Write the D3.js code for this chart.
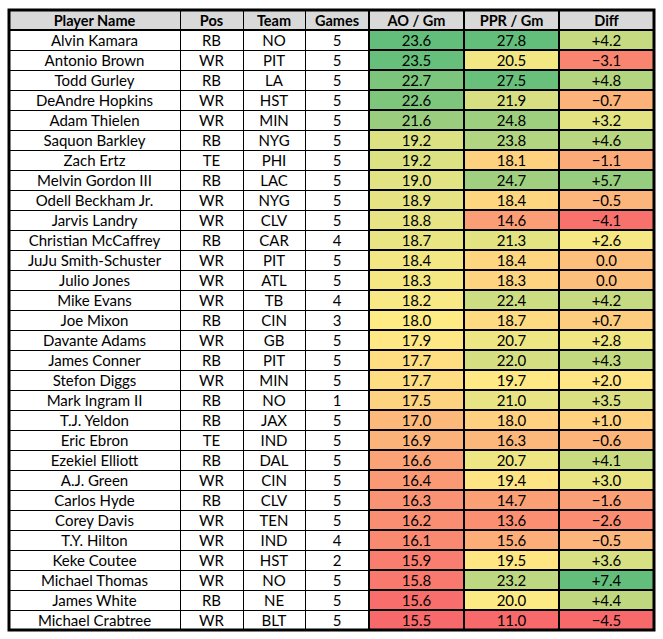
<!DOCTYPE html>
<html>
<head>
<meta charset="utf-8">
<script src="https://cdn.jsdelivr.net/npm/d3@7/dist/d3.min.js"></script>
<style>
  html, body { margin: 0; padding: 0; background: #fff; }
  svg { display: block; }
</style>
</head>
<body>
<svg id="chart" width="663" height="639"></svg>
<script>
const headers = ["Player Name", "Pos", "Team", "Games", "AO / Gm", "PPR / Gm", "Diff"];
const players = ["Alvin Kamara","Antonio Brown","Todd Gurley","DeAndre Hopkins","Adam Thielen","Saquon Barkley","Zach Ertz","Melvin Gordon III","Odell Beckham Jr.","Jarvis Landry","Christian McCaffrey","JuJu Smith-Schuster","Julio Jones","Mike Evans","Joe Mixon","Davante Adams","James Conner","Stefon Diggs","Mark Ingram II","T.J. Yeldon","Eric Ebron","Ezekiel Elliott","A.J. Green","Carlos Hyde","Corey Davis","T.Y. Hilton","Keke Coutee","Michael Thomas","James White","Michael Crabtree"];
const positions = ["RB","WR","RB","WR","WR","RB","TE","RB","WR","WR","RB","WR","WR","WR","RB","WR","RB","WR","RB","RB","TE","RB","WR","RB","WR","WR","WR","WR","RB","WR"];
const teams = ["NO","PIT","LA","HST","MIN","NYG","PHI","LAC","NYG","CLV","CAR","PIT","ATL","TB","CIN","GB","PIT","MIN","NO","JAX","IND","DAL","CIN","CLV","TEN","IND","HST","NO","NE","BLT"];
const games = [5,5,5,5,5,5,5,5,5,5,4,5,5,4,3,5,5,5,1,5,5,5,5,5,5,4,2,5,5,5];
const aoPerGame = [23.6,23.5,22.7,22.6,21.6,19.2,19.2,19.0,18.9,18.8,18.7,18.4,18.3,18.2,18.0,17.9,17.7,17.7,17.5,17.0,16.9,16.6,16.4,16.3,16.2,16.1,15.9,15.8,15.6,15.5];
const pprPerGame = [27.8,20.5,27.5,21.9,24.8,23.8,18.1,24.7,18.4,14.6,21.3,18.4,18.3,22.4,18.7,20.7,22.0,19.7,21.0,18.0,16.3,20.7,19.4,14.7,13.6,15.6,19.5,23.2,20.0,11.0];
const diffs = [4.2,-3.1,4.8,-0.7,3.2,4.6,-1.1,5.7,-0.5,-4.1,2.6,0.0,0.0,4.2,0.7,2.8,4.3,2.0,3.5,1.0,-0.6,4.1,3.0,-1.6,-2.6,-0.5,3.6,7.4,4.4,-4.5];

// layout
const colEdges = [9, 180, 243, 305, 369, 464, 559, 654];
const tableTop = 10, headerH = 20, rowH = 20;
const font = "Lato, 'Open Sans', sans-serif";

const svg = d3.select("#chart");
const y = d3.scaleBand().domain(d3.range(players.length)).range([tableTop + headerH, tableTop + headerH + rowH * players.length]).paddingInner(0).paddingOuter(0);
const x = d3.scaleOrdinal().domain(d3.range(headers.length)).range(colEdges.slice(0, -1));
const w = i => colEdges[i + 1] - colEdges[i];

function colorScale(vals) {
  const sorted = vals.slice().sort(d3.ascending);
  return d3.scaleLinear()
    .domain([d3.min(vals), d3.quantile(sorted, 0.5), d3.max(vals)])
    .range(["#F8696B", "#FFEB84", "#63BE7B"])
    .interpolate(d3.interpolateRgb);
}
const colAO = colorScale(aoPerGame), colPPR = colorScale(pprPerGame), colDiff = colorScale(diffs);

const fmt1 = d3.format(".1f");
const fmtDiff = v => v > 0 ? "+" + fmt1(v) : fmt1(v);

const rows = players.map((p, i) => [
  { text: p }, { text: positions[i] }, { text: teams[i] }, { text: String(games[i]) },
  { text: fmt1(aoPerGame[i]), fill: colAO(aoPerGame[i]) },
  { text: fmt1(pprPerGame[i]), fill: colPPR(pprPerGame[i]) },
  { text: fmtDiff(diffs[i]), fill: colDiff(diffs[i]) }
]);

// header background
svg.append("rect").attr("x", colEdges[0]).attr("y", tableTop).attr("width", colEdges[7] - colEdges[0]).attr("height", headerH).attr("fill", "#D9D9D9");

// cell fills
const rowG = svg.selectAll("g.row").data(rows).join("g").attr("class", "row")
  .attr("transform", (d, i) => `translate(0,${y(i)})`);
rowG.selectAll("rect").data(d => d.map((c, j) => ({ ...c, j })).filter(c => c.fill)).join("rect")
  .attr("x", c => x(c.j)).attr("y", 0).attr("width", c => w(c.j)).attr("height", y.bandwidth())
  .attr("fill", c => c.fill);

// grid lines
const g = svg.append("g").attr("stroke", "#000").attr("shape-rendering", "crispEdges");
const bottom = tableTop + headerH + rowH * players.length;
d3.range(players.length).forEach(i => {
  const yy = y(i);
  g.append("line").attr("x1", colEdges[0]).attr("x2", colEdges[4]).attr("y1", yy + 0.5).attr("y2", yy + 0.5).attr("stroke-width", 1);
  g.append("line").attr("x1", colEdges[4]).attr("x2", colEdges[7]).attr("y1", yy).attr("y2", yy).attr("stroke-width", 2);
});
[1, 2, 3].forEach(j => {
  g.append("line").attr("x1", colEdges[j] + 0.5).attr("x2", colEdges[j] + 0.5).attr("y1", tableTop).attr("y2", bottom).attr("stroke-width", 1);
});
[4, 5, 6].forEach(j => {
  g.append("line").attr("x1", colEdges[j]).attr("x2", colEdges[j]).attr("y1", tableTop).attr("y2", bottom).attr("stroke-width", 2);
});
g.append("line").attr("x1", colEdges[0]).attr("x2", colEdges[7]).attr("y1", tableTop + headerH).attr("y2", tableTop + headerH).attr("stroke-width", 2);
svg.append("rect").attr("x", colEdges[0]).attr("y", tableTop).attr("width", colEdges[7] - colEdges[0]).attr("height", bottom - tableTop)
  .attr("fill", "none").attr("stroke", "#000").attr("stroke-width", 3);

// header text
svg.selectAll("text.hdr").data(headers).join("text").attr("class", "hdr")
  .attr("x", (d, j) => x(j) + w(j) / 2).attr("y", tableTop + 15.5)
  .attr("text-anchor", "middle").attr("font-family", font).attr("font-weight", "bold").attr("font-size", 14.5)
  .attr("fill", "#000").text(d => d);

// body text
rowG.selectAll("text").data(d => d.map((c, j) => ({ ...c, j }))).join("text")
  .attr("x", c => x(c.j) + w(c.j) / 2).attr("y", 15.5)
  .attr("text-anchor", "middle").attr("font-family", font).attr("font-size", 15)
  .attr("fill", "#000").text(c => c.text);
</script>
</body>
</html>
